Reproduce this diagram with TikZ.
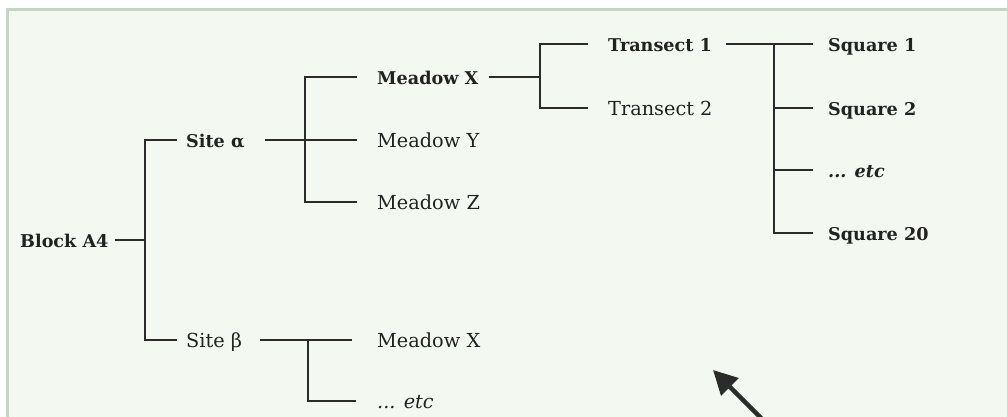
\documentclass[tikz,border=0pt]{standalone}
\usepackage{fontspec}
\setmainfont{DejaVu Serif}
\usetikzlibrary{arrows.meta}
\definecolor{bgpanel}{HTML}{F3F8F1}
\definecolor{panelborder}{HTML}{C6D4C2}
\definecolor{ink}{HTML}{222222}
\definecolor{lineink}{HTML}{2B2B2B}
\tikzset{
  lbl/.style={anchor=base west, inner sep=0pt, text=ink, font=\fontsize{19.3}{21}\selectfont},
  lblb/.style={lbl, font=\fontsize{17.6}{20}\selectfont\bfseries},
  tree/.style={draw=lineink, line width=1.8pt},
}
% baseline sits 7.5 below the connector line
\def\bl{7.5}
\begin{document}
\begin{tikzpicture}[x=1pt,y=-1pt]
\useasboundingbox (0,0) rectangle (1007,417);
\clip (0,0) rectangle (1007,417);
\fill[white] (0,0) rectangle (1007,417);
\draw[panelborder, fill=bgpanel, line width=3pt] (7.5,10) rectangle (1030,440);

% nodes (placed at their connector height + baseline offset)
\node[lblb] (block) at (20,240+\bl) {Block A4};
\node[lblb] (sa) at (186,140+\bl) {Site α};
\node[lbl]  (sb) at (186,340+\bl) {Site β};
\node[lblb] (ma) at (377,77+\bl) {Meadow X};
\node[lbl]  (my) at (377,140+\bl) {Meadow Y};
\node[lbl]  (mz) at (377,202+\bl) {Meadow Z};
\node[lbl]  (mbx) at (377,340+\bl) {Meadow X};
\node[lbl, font=\fontsize{19.3}{21}\selectfont\itshape] (mbe) at (377,401+\bl) {... etc};
\node[lblb] (t1) at (608,44+\bl) {Transect 1};
\node[lbl]  (t2) at (608,108+\bl) {Transect 2};
\node[lblb] (s1) at (828,44+\bl) {Square 1};
\node[lblb] (s2) at (828,108+\bl) {Square 2};
\node[lblb, font=\fontsize{17.6}{20}\selectfont\bfseries\itshape] (se) at (828,170+\bl) {... etc};
\node[lblb] (s20) at (828,233+\bl) {Square 20};

% junctions
\coordinate (j0) at (145,240);
\coordinate (j1) at (305,140);
\coordinate (j2) at (540,77);
\coordinate (j3) at (774,44);
\coordinate (j4) at (308,340);

% Block -> sites
\draw[tree] ([shift={(6pt,\bl pt)}]block.base east) -- (j0);
\draw[tree] ([shift={(-9pt,\bl pt)}]sa.base west) -| (j0) |- ([shift={(-9pt,\bl pt)}]sb.base west);
% Site alpha -> meadows
\draw[tree] ([shift={(20pt,\bl pt)}]sa.base east) -- ([shift={(-20pt,\bl pt)}]my.base west);
\draw[tree] ([shift={(-20pt,\bl pt)}]ma.base west) -| (j1) |- ([shift={(-20pt,\bl pt)}]mz.base west);
% Meadow X -> transects
\draw[tree] ([shift={(11pt,\bl pt)}]ma.base east) -- (j2);
\draw[tree] ([shift={(-20pt,\bl pt)}]t1.base west) -| (j2) |- ([shift={(-20pt,\bl pt)}]t2.base west);
% Transect 1 -> squares
\draw[tree] ([shift={(14pt,\bl pt)}]t1.base east) -- ([shift={(-15pt,\bl pt)}]s1.base west);
\draw[tree] (j3) |- ([shift={(-15pt,\bl pt)}]s20.base west);
\draw[tree] ([shift={(-15pt,\bl pt)}]s2.base west) coordinate (s2l) -- (s2l -| j3);
\draw[tree] ([shift={(-15pt,\bl pt)}]se.base west) coordinate (sel) -- (sel -| j3);
% Site beta -> meadows
\draw[tree] ([shift={(18pt,\bl pt)}]sb.base east) -- ([shift={(-25pt,\bl pt)}]mbx.base west);
\draw[tree] (j4) |- ([shift={(-21pt,\bl pt)}]mbe.base west);

% arrow
\coordinate (arrowtail) at (785,442);
\coordinate (arrowhead) at (713,370);
\draw[lineink, line width=4.5pt, -{Triangle[length=24pt,width=24pt]}] (arrowtail) -- (arrowhead);
\end{tikzpicture}
\end{document}
